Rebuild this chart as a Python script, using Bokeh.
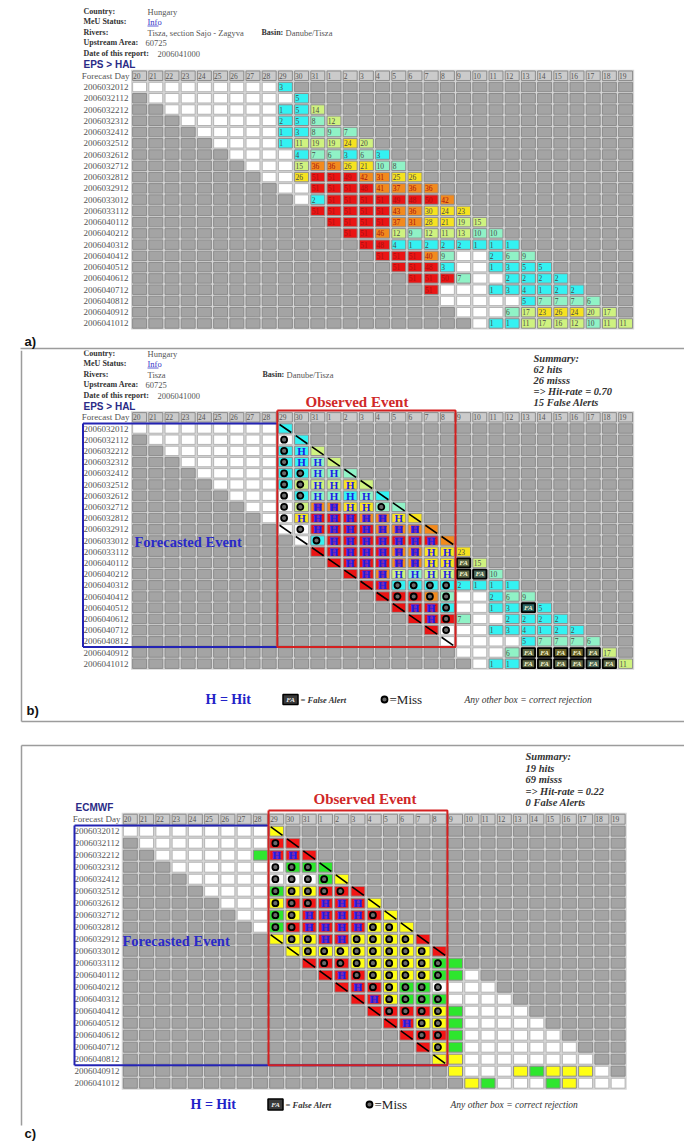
from bokeh.plotting import figure
from bokeh.layouts import column
from bokeh.models import Range1d, ColumnDataSource
from bokeh.core.properties import value
from bokeh.embed import file_html
from bokeh.resources import INLINE

SERIF = "Liberation Serif"
SANS = "Liberation Sans"

# ---------------------------------------------------------------- data
forecast_days = ["20", "21", "22", "23", "24", "25", "26", "27", "28", "29", "30", "31",
                 "1", "2", "3", "4", "5", "6", "7", "8", "9", "10", "11", "12", "13",
                 "14", "15", "16", "17", "18", "19"]

run_dates = ["2006032012", "2006032112", "2006032212", "2006032312", "2006032412",
             "2006032512", "2006032612", "2006032712", "2006032812", "2006032912",
             "2006033012", "2006033112", "2006040112", "2006040212", "2006040312",
             "2006040412", "2006040512", "2006040612", "2006040712", "2006040812",
             "2006040912", "2006041012"]

# EPS members above the HAL threshold; each run covers 10 days starting on its own date
eps_members = [
    [0, 0, 0, 0, 0, 0, 0, 0, 0, 3],
    [0, 0, 0, 0, 0, 0, 0, 0, 0, 5],
    [0, 0, 0, 0, 0, 0, 0, 1, 5, 14],
    [0, 0, 0, 0, 0, 0, 2, 5, 8, 12],
    [0, 0, 0, 0, 0, 1, 3, 8, 9, 7],
    [0, 0, 0, 0, 1, 11, 19, 19, 24, 20],
    [0, 0, 0, 0, 4, 7, 6, 3, 6, 3],
    [0, 0, 0, 15, 36, 36, 26, 21, 10, 8],
    [0, 0, 26, 51, 51, 49, 42, 31, 25, 26],
    [0, 0, 51, 51, 51, 48, 41, 37, 36, 36],
    [0, 2, 51, 51, 51, 51, 49, 48, 50, 42],
    [51, 51, 51, 51, 51, 43, 36, 30, 24, 23],
    [51, 51, 51, 51, 37, 31, 28, 21, 19, 15],
    [51, 51, 46, 12, 9, 12, 11, 13, 10, 10],
    [51, 48, 4, 1, 2, 2, 2, 1, 1, 1],
    [51, 51, 51, 40, 9, 0, 0, 2, 6, 9],
    [51, 51, 48, 3, 0, 0, 1, 3, 5, 5],
    [51, 51, 50, 7, 0, 0, 2, 2, 2, 2],
    [51, 0, 0, 0, 1, 3, 4, 1, 2, 2],
    [0, 0, 0, 0, 0, 5, 7, 7, 7, 6],
    [0, 0, 0, 6, 17, 23, 26, 24, 20, 17],
    [0, 1, 1, 11, 17, 16, 12, 10, 11, 11],
]

# verification of the EPS runs: H hit, o miss, x not counted, F false alert, - nothing
eps_verif = [
    "---------x", "--------ox", "-------oHx", "------oHHx", "-----ooHHx",
    "----ooHHHx", "---ooHHHHx", "--ooHHHHox", "-oHHHHHHHx", "xoHHHHHHHx",
    "xoHHHHHHHx", "xHHHHHHHH-", "xHHHHHHHF-", "xHHHHHHFF-", "xHoooo----",
    "xoooo-----", "xHHo----F-", "xHo-------", "xo--------", "x---------",
    "----FFFFF-", "---FFFFFF-",
]

# ECMWF deterministic forecast level: W none, G low, Y medium, R high
ecmwf_level = [
    "WWWWWWWWWY", "WWWWWWWWRR", "WWWWWWGRRR", "WWWWWWWGGG", "WWWWWWWWGY",
    "WWWWGYYRRR", "WWWYRRRRRY", "WWGYRRRRRY", "WGRRRRRYYY", "YYYRRYYYYR",
    "YYYYYYYYYR", "RRRYYYYYGG", "RRRYYYYGGW", "RRRYGGWWWW", "RRYGGGWWWW",
    "RRRRYGWWWW", "RRYYGWWWWW", "RRRGWWWWWW", "RYGWWWWWWW", "YYWWWWWWWW",
    "YWWWYGYYYW", "YGWWWGYWWW",
]

ecmwf_verif = [
    "---------x", "--------ox", "-------HHx", "------ooox", "-----oooox",
    "----ooooox", "---oooHHHx", "--ooHHHHox", "-ooHHHHoox", "xooHHoooox",
    "xoooooooox", "xoooooooo-", "xHoooooo--", "xHooooo---", "xHoooo----",
    "xoooo-----", "xHoo------", "xoo-------", "xo--------", "x---------",
    "----------", "----------",
]

eps_summary = ["Summary:", "62 hits", "26 misss", "=> Hit-rate = 0.70", "15 False Alerts"]
ecmwf_summary = ["Summary:", "19 hits", "69 misss", "=> Hit-rate = 0.22", "0  False Alerts"]

# observed event window (column indices) and runs inside the forecast-event box
obs_first, obs_last = 9, 19
fc_runs = 20

GREY = "#a4a4a4"
LEVEL_FILL = {"W": "#ffffff", "G": "#2ee62e", "Y": "#ffff14", "R": "#f21616"}


def eps_fill(n):
    if n == 0:
        return "#ffffff"
    if n <= 5:
        return "#34f2f2"
    if n <= 10:
        return "#90f2c6"
    if n <= 20:
        return "#cff280"
    if n <= 30:
        return "#f6e220"
    if n < 48:
        return "#f28a1e"
    return "#ea1414"


def make_panel(top, height, x0, cw, row0_page, rh):
    row0 = row0_page - top
    p = figure(width=684, height=height,
               x_range=Range1d(-x0 / cw, (684 - x0) / cw),
               y_range=Range1d((height - row0) / rh, -row0 / rh),
               x_axis_location=None, y_axis_location=None,
               output_backend="svg", toolbar_location=None, min_border=0)
    p.grid.visible = False
    p.outline_line_color = None
    p.background_fill_color = "white"
    p.border_fill_color = "white"

    def U(px):
        return (px - x0) / cw

    def V(py):
        return (py - row0_page) / rh
    return p, U, V


def put(p, x, y, txt, size, color="#333333", font=SERIF, style="normal",
        align="left", baseline="middle"):
    p.text(x=[x], y=[y], text=[txt], text_font=value(font), text_font_size=size,
           text_font_style=style, text_color=color, text_align=align,
           text_baseline=baseline)


def draw_grid(p, U, label_right, fills, numbers, cell_h):
    ncol, nrow = len(forecast_days), len(run_dates)
    p.rect(x=[ncol / 2], y=[(nrow - 2) / 2], width=[ncol + 0.06], height=[nrow + 1.08],
           fill_color="#d6d6d6", line_color=None)
    # header row of forecast days
    hx = [c + 0.5 for c in range(ncol)]
    p.rect(x=hx, y=[-1] * ncol, width=0.86, height=cell_h, fill_color="#cbcbcb",
           line_color="#8c8c8c", line_width=1)
    p.text(x=[c + 0.1 for c in range(ncol)], y=[-1] * ncol, text=forecast_days,
           text_font=value(SERIF), text_font_size="7.5px", text_color="#555555",
           text_baseline="middle")
    put(p, U(label_right + 1), -1, "Forecast Day", "9px", "#555555", align="right")
    p.text(x=[U(label_right)] * nrow, y=list(range(nrow)), text=run_dates,
           text_font=value(SERIF), text_font_size="9px", text_color="#555555",
           text_align="right", text_baseline="middle")
    src = dict(x=[], y=[], fill=[], line=[])
    lab = dict(x=[], y=[], text=[], color=[])
    for r in range(nrow):
        for c in range(ncol):
            k = c - r
            if 0 <= k < 10:
                f = fills[r][k]
                line = "#b4b4b4" if f == "#ffffff" else "#8c8c8c"
                if numbers is not None and numbers[r][k]:
                    lab["x"].append(c + 0.12)
                    lab["y"].append(r)
                    lab["text"].append(str(numbers[r][k]))
                    lab["color"].append("#a81010" if f in ("#ea1414", "#f28a1e") else "#4a4a4a")
            else:
                f, line = GREY, "#8c8c8c"
            src["x"].append(c + 0.5)
            src["y"].append(r)
            src["fill"].append(f)
            src["line"].append(line)
    p.rect(x="x", y="y", width=0.86, height=cell_h, fill_color="fill", line_color="line",
           line_width=1, source=ColumnDataSource(src))
    p.text(x="x", y="y", text="text", text_color="color", text_font=value(SERIF),
           text_font_size="7.5px", text_baseline="middle", source=ColumnDataSource(lab))


def draw_marks(p, codes, fills, cell_h):
    hx, hy, px_, py_, ox, oy = [], [], [], [], [], []
    d = dict(x0=[], y0=[], x1=[], y1=[])
    fx, fy = [], []
    for r, row in enumerate(codes):
        for k, code in enumerate(row):
            c = r + k
            if code == "H":
                hx.append(c + 0.5)
                hy.append(r)
                if fills[r][k] in ("#ea1414", "#f28a1e", "#f21616"):
                    px_.append(c + 0.5)
                    py_.append(r)
            elif code == "o":
                ox.append(c + 0.42)
                oy.append(r)
            elif code == "x":
                d["x0"].append(c + 0.14)
                d["y0"].append(r - cell_h / 2 + 0.06)
                d["x1"].append(c + 0.86)
                d["y1"].append(r + cell_h / 2 - 0.06)
            elif code == "F":
                fx.append(c + 0.5)
                fy.append(r)
    p.rect(x=px_, y=py_, width=0.5, height=cell_h * 0.8, fill_color="#7e2aa6", line_color=None)
    p.text(x=hx, y=hy, text=["H"] * len(hx), text_font=value(SERIF), text_font_size="11px",
           text_font_style="bold", text_color="#1c1ce6", text_align="center",
           text_baseline="middle")
    p.scatter(x=ox, y=oy, size=6, marker="circle", fill_color="#6a6a6a", line_color="black",
              line_width=1.8)
    p.segment(x0="x0", y0="y0", x1="x1", y1="y1", line_color="black", line_width=1.6,
              source=ColumnDataSource(d))
    p.rect(x=fx, y=fy, width=0.82, height=cell_h * 0.95, fill_color="#2a2a2a", fill_alpha=0.7,
           line_color="black", line_width=1.8)
    p.text(x=fx, y=fy, text=["FA"] * len(fx), text_font=value(SERIF), text_font_size="7px",
           text_font_style="bold italic", text_color="#f4f4d0", text_align="center",
           text_baseline="middle")


def station_header(p, U, V, top_y, basin_x, river_text):
    step = [0, 10, 21, 31, 42]
    labels = ["Country:", "MeU Status:", "Rivers:", "Upstream Area:", "Date of this report:"]
    for s, t in zip(step, labels):
        put(p, U(83), V(top_y + s), t, "8px", "#333333", style="bold")
    put(p, U(147), V(top_y), "Hungary", "8.5px", "#555555")
    put(p, U(147), V(top_y + 10), "Info", "8.5px", "#3434c8")
    p.line(x=[U(147), U(158)], y=[V(top_y + 14.5)] * 2, line_color="#3434c8", line_width=0.8)
    put(p, U(147), V(top_y + 21), river_text, "8.5px", "#555555")
    put(p, U(basin_x), V(top_y + 21), "Basin:", "8px", "#333333", style="bold")
    put(p, U(basin_x + 24), V(top_y + 21), "Danube/Tisza", "8.5px", "#555555")
    put(p, U(145), V(top_y + 31), "60725", "8.5px", "#555555")
    put(p, U(157), V(top_y + 42), "2006041000", "8.5px", "#555555")
    put(p, U(83), V(top_y + 53), "EPS > HAL", "10px", "#2a2a86", font=SANS, style="bold")


def summary(p, U, V, x, y0, lines, dy):
    for i, t in enumerate(lines):
        put(p, U(x), V(y0 + i * dy), t, "10.5px", "#333333", style="bold italic")


def legend(p, U, V, y, xs, cw):
    put(p, U(xs[0]), V(y), "H = Hit", "14px", "#2222c8", style="bold")
    p.rect(x=[U(xs[1] + 8)], y=[V(y)], width=[15 / cw], height=[0.9],
           fill_color="#3a3a3a", line_color="black", line_width=1.5)
    put(p, U(xs[1] + 8), V(y), "FA", "7px", "#f0f0f0", style="bold italic", align="center")
    put(p, U(xs[1] + 18), V(y), "= False Alert", "8.5px", "#333333", style="bold italic")
    p.scatter(x=[U(xs[2] + 3)], y=[V(y)], size=6, fill_color="#6a6a6a", line_color="black",
              line_width=1.8)
    put(p, U(xs[2] + 8), V(y), "=Miss", "13px", "#222222")
    put(p, U(xs[3]), V(y), "Any other box = correct rejection", "9.5px", "#333333",
        style="italic")


# ---------------------------------------------------------------- panel a
pa, Ua, Va = make_panel(0, 350, 131, 16.2, 86.5, 11.26)
station_header(pa, Ua, Va, 11, 261, "Tisza, section Sajo - Zagyva")
eps_fills = [[eps_fill(v) for v in row] for row in eps_members]
draw_grid(pa, Ua, 128, eps_fills, eps_members, 0.84)
pa.line(x=[Ua(20), Ua(684)], y=[Va(348)] * 2, line_color="#9c9c9c", line_width=1.5)
put(pa, Ua(24), Va(341), "a)", "13px", "#111111", font=SANS, style="bold")

# ---------------------------------------------------------------- panel b
pb, Ub, Vb = make_panel(350, 378, 131, 16.2, 428, 11.2)
station_header(pb, Ub, Vb, 353, 262, "Tisza")
numbers_b = [[v if code == "-" else 0 for v, code in zip(vals, codes)]
             for vals, codes in zip(eps_members, eps_verif)]
draw_grid(pb, Ub, 128, eps_fills, numbers_b, 0.84)
draw_marks(pb, eps_verif, eps_fills, 0.84)
# observed event (red) and forecasted event (blue) frames
pb.line(x=[Ub(82.5), Ub(82.5)], y=[-0.45, fc_runs - 0.5], line_color="#2424b4", line_width=2)
pb.line(x=[Ub(82.5), obs_first], y=[-0.45, -0.45], line_color="#2424b4", line_width=2)
pb.line(x=[Ub(82.5), obs_last + 1], y=[fc_runs - 0.5] * 2, line_color="#2424b4", line_width=2)
pb.line(x=[obs_first, obs_first, obs_last + 1, obs_last + 1, obs_first],
        y=[Vb(410), fc_runs - 0.5, fc_runs - 0.5, Vb(410), Vb(410)],
        line_color="#d42020", line_width=2)
put(pb, Ub(305), Vb(401), "Observed Event", "15px", "#d02828", style="bold")
put(pb, Ub(134), Vb(541), "Forecasted Event", "14.5px", "#2a2ac8", style="bold")
summary(pb, Ub, Vb, 533, 358, eps_summary, 11)
legend(pb, Ub, Vb, 699, [205, 282, 381, 464], 16.2)
pb.line(x=[Ub(21), Ub(21)], y=[Vb(350), Vb(721)], line_color="#9c9c9c", line_width=1.5)
pb.line(x=[Ub(21), Ub(684)], y=[Vb(721)] * 2, line_color="#9c9c9c", line_width=1.5)
put(pb, Ub(26), Vb(710), "b)", "13px", "#111111", font=SANS, style="bold")

# ---------------------------------------------------------------- panel c
pc, Uc, Vc = make_panel(728, 413, 121.7, 16.26, 830.7, 12.0)
ecmwf_fills = [[LEVEL_FILL[ch] for ch in row] for row in ecmwf_level]
draw_grid(pc, Uc, 119, ecmwf_fills, None, 0.83)
draw_marks(pc, ecmwf_verif, ecmwf_fills, 0.83)
pc.line(x=[Uc(74), Uc(74)], y=[-0.48, fc_runs - 0.5], line_color="#2424b4", line_width=2)
pc.line(x=[Uc(74), obs_first], y=[-0.48, -0.48], line_color="#2424b4", line_width=2)
pc.line(x=[Uc(74), obs_last + 1], y=[fc_runs - 0.5] * 2, line_color="#2424b4", line_width=2)
pc.line(x=[obs_first, obs_first, obs_last + 1, obs_last + 1, obs_first],
        y=[Vc(810), fc_runs - 0.5, fc_runs - 0.5, Vc(810), Vc(810)],
        line_color="#d42020", line_width=2)
put(pc, Uc(313), Vc(798), "Observed Event", "15px", "#d02828", style="bold")
put(pc, Uc(122), Vc(940), "Forecasted Event", "14.5px", "#2a2ac8", style="bold")
put(pc, Uc(75), Vc(807), "ECMWF", "10px", "#2a2a86", font=SANS, style="bold")
summary(pc, Uc, Vc, 525, 756, ecmwf_summary, 11.5)
legend(pc, Uc, Vc, 1104, [190, 267, 366, 450], 16.26)
pc.line(x=[Uc(21), Uc(684)], y=[Vc(745)] * 2, line_color="#9c9c9c", line_width=1.5)
pc.line(x=[Uc(21), Uc(21)], y=[Vc(745), Vc(1125)], line_color="#9c9c9c", line_width=1.5)
put(pc, Uc(24), Vc(1133), "c)", "13px", "#111111", font=SANS, style="bold")

layout = column(pa, pb, pc, spacing=0)
open("out.html", "w").write(file_html(layout, INLINE))
